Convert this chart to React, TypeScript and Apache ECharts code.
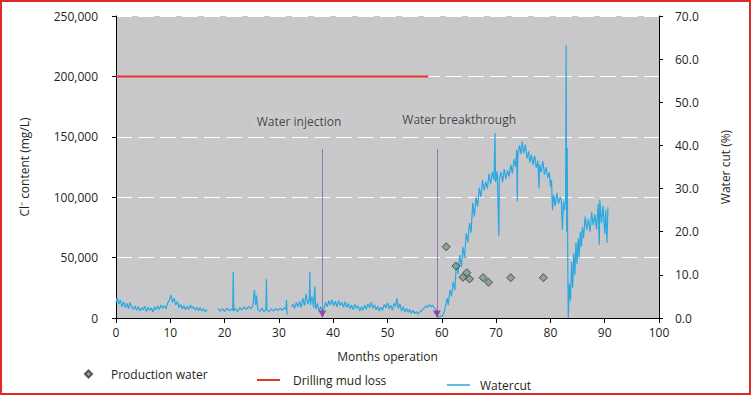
import React, { useEffect, useRef } from "react";
import * as echarts from "echarts";

// ---- data ----
const xTicks = [0, 10, 20, 30, 40, 50, 60, 70, 80, 90, 100];
const leftTicks = [0, 50000, 100000, 150000, 200000, 250000];
const rightTicks = [0, 10, 20, 30, 40, 50, 60, 70];

// Production water: [month, Cl- mg/L]
const productionWater: [number, number][] = [
  [60.8, 59000], [62.6, 43000], [63.9, 33700], [64.6, 37500], [65.1, 32300],
  [67.6, 33400], [68.6, 29600], [72.7, 33400], [78.7, 33400],
];

// Drilling mud loss: [month, Cl- mg/L]
const drillingMudLoss: [number, number][] = [
  [0, 200000], [57.5, 200000],
];

// Events (vertical lines): month, top value, label, label month, label value
const eventMonths = [38.0, 59.1];
const eventTops = [140000, 140000];
const eventLabels = ["Water injection", "Water breakthrough"];
const eventLabelMonths = [33.7, 63.2];
const eventLabelValues = [163000, 164000];

// Watercut: [month, %]; null = gap
const watercut: [number, number | null][] = [
  [0, 3.5], [0.2, 4.8], [0.5, 3.2], [0.8, 4.2], [1.1, 2.6], [1.4, 3.8], [1.7, 2.4], [2.0, 3.4], [2.3, 2.2], [2.6, 3.6],
  [2.9, 2.5], [3.2, 2.0], [3.5, 2.8], [3.8, 1.8], [4.1, 2.6], [4.4, 1.6], [4.7, 2.4], [5.0, 1.9], [5.3, 2.7], [5.6, 1.5],
  [5.9, 2.5], [6.2, 1.8], [6.5, 2.3], [6.8, 1.4], [7.1, 2.6], [7.4, 1.9], [7.7, 2.8], [8.0, 2.0], [8.3, 3.0], [8.6, 2.2],
  [8.9, 2.9], [9.2, 2.1], [9.5, 3.4], [9.8, 4.0], [10.1, 5.3], [10.4, 3.6], [10.7, 4.6], [11.0, 3.0], [11.3, 3.8], [11.6, 2.4],
  [11.9, 3.2], [12.2, 2.1], [12.5, 2.9], [12.8, 1.9], [13.1, 2.7], [13.4, 2.0], [13.7, 3.0], [14.0, 2.2], [14.3, 2.6], [14.6, 1.8],
  [14.9, 2.5], [15.2, 1.7], [15.5, 2.4], [15.8, 1.6], [16.1, 2.2], [16.4, 1.5], [16.8, 1.9], [17.5, null],
  [18.8, 2.2], [19.2, 1.6], [19.6, 2.1], [20.0, 1.5], [20.4, 2.3], [20.8, 1.7], [21.2, 2.0], [21.5, 1.8], [21.6, 10.7], [21.7, 1.6],
  [22.0, 2.2], [22.4, 1.5], [22.8, 2.4], [23.2, 1.8], [23.6, 2.6], [24.0, 2.0], [24.4, 2.7], [24.8, 2.1], [25.2, 2.9], [25.5, 6.5],
  [25.7, 3.0], [25.9, 5.2], [26.1, 2.0], [26.5, 1.6], [26.9, 2.3], [27.3, 1.4], [27.6, 2.0], [27.7, 9.0], [27.8, 1.8], [28.2, 1.5],
  [28.6, 2.1], [29.0, 1.6], [29.4, 2.2], [29.8, 1.7], [30.2, 2.3], [30.6, 1.8], [31.0, 2.4], [31.3, 2.0], [31.4, 4.2], [31.5, 0.8],
  [31.9, null],
  [32.3, 2.6], [32.6, 3.2], [32.9, 2.2], [33.2, 3.6], [33.5, 2.6], [33.8, 3.9], [34.1, 2.4], [34.4, 4.6], [34.7, 2.8], [35.0, 5.6],
  [35.3, 3.2], [35.6, 4.4], [35.7, 10.7], [35.8, 3.0], [36.1, 5.0], [36.4, 2.4], [36.6, 7.3], [36.8, 2.0], [37.1, 3.4], [37.4, 1.6],
  [37.7, 2.6], [38.0, 1.4], [38.3, 2.2], [38.6, 3.6], [38.9, 2.6], [39.2, 4.0], [39.5, 3.0], [39.8, 4.2], [40.1, 2.8], [40.4, 3.9],
  [40.7, 2.6], [41.0, 4.1], [41.3, 2.9], [41.6, 3.6], [41.9, 2.5], [42.2, 3.8], [42.5, 2.4], [42.8, 3.4], [43.1, 2.1], [43.4, 3.0],
  [43.7, 1.9], [44.0, 3.2], [44.3, 2.2], [44.6, 2.8], [44.9, 1.6], [45.2, 2.6], [45.5, 1.8], [45.8, 3.0], [46.1, 2.0], [46.4, 3.3],
  [46.7, 2.4], [47.0, 3.6], [47.3, 2.2], [47.6, 3.1], [47.9, 1.9], [48.2, 2.7], [48.5, 1.6], [48.8, 2.5], [49.1, 1.8], [49.4, 3.2],
  [49.7, 2.3], [50.0, 3.5], [50.3, 2.1], [50.6, 3.0], [50.9, 1.8], [51.2, 3.4], [51.5, 2.6], [51.7, 4.6], [52.0, 2.2], [52.3, 3.3],
  [52.6, 1.6], [52.9, 2.6], [53.2, 1.4], [53.5, 2.2], [53.8, 1.3], [54.1, 2.0], [54.4, 1.1], [54.7, 1.8], [55.0, 1.0], [55.3, 1.5],
  [55.6, 0.9], [55.9, 1.4], [56.2, 1.6], [56.5, 2.0], [56.8, 2.4], [57.1, 2.8], [57.4, 2.5], [57.7, 3.1], [58.0, 2.6], [58.3, 3.0],
  [58.6, 2.4], [58.9, 2.0], [59.2, 0.6], [59.5, 0.3], [59.8, 0.5], [60.1, 0.4], [60.4, 1.2], [60.7, 2.8], [61.0, 4.6], [61.2, 3.0],
  [61.5, 6.5], [61.8, 5.0], [62.1, 8.4], [62.4, 6.4], [62.7, 12.7], [63.0, 10.2], [63.3, 14.6], [63.6, 11.8], [63.9, 16.5], [64.2, 14.0],
  [64.5, 19.7], [64.8, 17.5], [65.1, 22.0], [65.4, 19.8], [65.7, 26.7], [66.0, 23.5], [66.3, 28.0], [66.6, 25.8], [66.9, 30.2], [67.2, 28.0],
  [67.5, 32.0], [67.8, 29.5], [68.1, 31.6], [68.4, 30.0], [68.7, 33.5], [69.0, 31.0], [69.3, 33.8], [69.6, 32.0], [69.8, 42.9], [69.9, 31.5],
  [70.2, 34.0], [70.5, 19.0], [70.6, 32.5], [70.9, 33.8], [71.2, 31.5], [71.5, 34.5], [71.8, 32.2], [72.1, 34.2], [72.4, 32.8], [72.7, 35.5],
  [73.0, 33.5], [73.3, 36.8], [73.6, 35.0], [73.8, 39.0], [73.9, 27.0], [74.0, 37.5], [74.3, 40.0], [74.6, 38.0], [74.8, 40.9], [75.1, 38.2],
  [75.4, 40.2], [75.7, 37.0], [76.0, 38.6], [76.2, 36.0], [76.5, 37.8], [76.8, 35.5], [77.1, 37.6], [77.4, 34.8], [77.7, 36.5], [77.9, 30.0],
  [78.0, 35.6], [78.3, 33.8], [78.6, 36.4], [78.9, 33.2], [79.2, 35.0], [79.5, 32.5], [79.8, 33.8], [80.0, 30.5], [80.2, 32.0], [80.4, 25.0],
  [80.6, 28.5], [80.9, 26.0], [81.2, 29.0], [81.5, 26.5], [81.8, 28.0], [82.0, 27.4], [82.2, 20.4], [82.4, 27.0], [82.6, 25.0], [82.8, 27.5],
  [82.9, 63.3], [83.0, 20.0], [83.1, 39.4], [83.2, 12.0], [83.3, 0.0], [83.5, 8.0], [83.7, 4.0], [83.9, 13.0], [84.1, 7.0], [84.3, 15.0],
  [84.5, 10.0], [84.7, 17.5], [84.9, 12.5], [85.1, 18.5], [85.3, 14.0], [85.5, 20.0], [85.7, 16.5], [85.9, 21.0], [86.1, 18.5], [86.4, 23.5],
  [86.7, 20.5], [87.0, 23.0], [87.3, 20.0], [87.6, 24.5], [87.9, 21.5], [88.2, 24.0], [88.5, 20.5], [88.8, 26.5], [89.0, 17.0], [89.1, 27.4],
  [89.4, 22.0], [89.7, 26.0], [90.0, 19.5], [90.2, 25.0], [90.4, 17.4], [90.6, 25.7],
];

const FONT = "'Open Sans', sans-serif";
const TXT = "#231f20";
const RED = "#e8322b";
const BLUE = "#2aa8e0";

export default function App() {
  const ref = useRef<HTMLDivElement>(null);
  useEffect(() => {
    if (!ref.current) return;
    const chart = echarts.init(ref.current, undefined, { renderer: "svg" });
    const axisLine = { show: true, lineStyle: { color: "#000", width: 1 } };
    chart.setOption({
      animation: false,
      textStyle: { fontFamily: FONT, color: TXT },
      grid: {
        left: 116, right: 92, top: 16, bottom: 77,
        show: true, backgroundColor: "#c8c8ca", borderWidth: 0,
      },
      legend: [
        {
          data: ["Production water"], left: 79, top: 363, itemWidth: 7, itemHeight: 7,
          textStyle: { fontFamily: FONT, fontSize: 12, color: TXT, padding: [0, 0, 0, 14] },
        },
        {
          data: [{ name: "Drilling mud loss", icon: "rect" }], left: 252, top: 369, itemWidth: 23, itemHeight: 2,
          itemStyle: { color: RED },
          textStyle: { fontFamily: FONT, fontSize: 12, color: TXT, padding: [0, 0, 0, 8] },
        },
        {
          data: [{ name: "Watercut", icon: "rect" }], left: 442, top: 374, itemWidth: 23, itemHeight: 1.5,
          itemStyle: { color: BLUE },
          textStyle: { fontFamily: FONT, fontSize: 12, color: TXT, padding: [0, 0, 0, 5] },
        },
      ],
      xAxis: {
        type: "value", min: xTicks[0], max: xTicks[xTicks.length - 1], interval: 10,
        name: "Months operation", nameLocation: "middle", nameGap: 32,
        nameTextStyle: { fontFamily: FONT, fontSize: 12, color: TXT },
        axisLine, axisTick: { show: true, length: 5, lineStyle: { color: "#000" } },
        axisLabel: { fontFamily: FONT, fontSize: 12, color: TXT, margin: 8 },
        splitLine: { show: false },
      },
      yAxis: [
        {
          type: "value", min: leftTicks[0], max: leftTicks[leftTicks.length - 1], interval: 50000,
          name: "Cl\u207B content (mg/L)", nameLocation: "middle", nameGap: 86, nameRotate: 90,
          nameTextStyle: { fontFamily: FONT, fontSize: 12, color: TXT },
          axisLine, axisTick: { show: true, length: 4, lineStyle: { color: "#000" } },
          axisLabel: {
            fontFamily: FONT, fontSize: 12, color: TXT, margin: 18,
            formatter: (v: number) => v.toLocaleString("en-US"),
          },
          splitLine: { show: true, lineStyle: { color: "#ffffff", width: 1.2, type: [16, 6] } },
        },
        {
          type: "value", min: rightTicks[0], max: rightTicks[rightTicks.length - 1], interval: 10,
          position: "right",
          name: "Water cut (%)", nameLocation: "middle", nameGap: 60, nameRotate: 90,
          nameTextStyle: { fontFamily: FONT, fontSize: 12, color: TXT },
          axisLine, axisTick: { show: true, length: 4, lineStyle: { color: "#000" } },
          axisLabel: {
            fontFamily: FONT, fontSize: 12, color: TXT, margin: 16,
            formatter: (v: number) => v.toFixed(1),
          },
          splitLine: { show: false },
        },
      ],
      series: [
        {
          name: "Drilling mud loss", type: "line", yAxisIndex: 0,
          data: drillingMudLoss, showSymbol: false, symbol: "none",
          lineStyle: { color: RED, width: 2 }, itemStyle: { color: RED },
          z: 3,
        },
        {
          name: "events", type: "scatter", yAxisIndex: 0,
          data: eventMonths.map((m) => [m, 0]),
          symbol: "triangle", symbolRotate: 180, symbolSize: [8, 7], symbolOffset: [0, -4],
          itemStyle: { color: "#8a2fa0" }, z: 5,
          markLine: {
            silent: true, symbol: ["none", "none"], label: { show: false },
            lineStyle: { color: "#8a80a8", width: 1, type: "solid" },
            data: eventMonths.map((m, i) => [{ coord: [m, 0] }, { coord: [m, eventTops[i]] }]),
          },
        },
        {
          name: "eventLabels", type: "scatter", yAxisIndex: 0,
          data: eventLabelMonths.map((m, i) => ({ value: [m, eventLabelValues[i]], name: eventLabels[i] })),
          symbolSize: 0,
          label: {
            show: true, position: "inside", formatter: (p: any) => p.name,
            fontFamily: FONT, fontSize: 12, color: TXT,
            backgroundColor: "#cbcbcd", padding: [2, 4],
          },
        },
        {
          name: "Watercut", type: "line", yAxisIndex: 1,
          data: watercut.map(([m, v]) => [m, v === null ? "-" : v]),
          showSymbol: false, symbol: "none", connectNulls: false,
          lineStyle: { color: BLUE, width: 1.2 }, itemStyle: { color: BLUE },
          z: 2,
        },
        {
          name: "Production water", type: "scatter", yAxisIndex: 0,
          data: productionWater, symbol: "diamond", symbolSize: 8,
          itemStyle: { color: "#7f9a86", borderColor: "#2d3a33", borderWidth: 1 },
          z: 6,
        },
      ],
    });
    return () => chart.dispose();
  }, []);
  return (
    <div
      style={{
        position: "fixed", left: 0, top: 0, width: 751, height: 395,
        background: "#fff", border: "2px solid #e02a2a", boxSizing: "border-box",
      }}
    >
      <div ref={ref} style={{ position: "absolute", left: -2, top: -2, width: 751, height: 395 }} />
    </div>
  );
}
